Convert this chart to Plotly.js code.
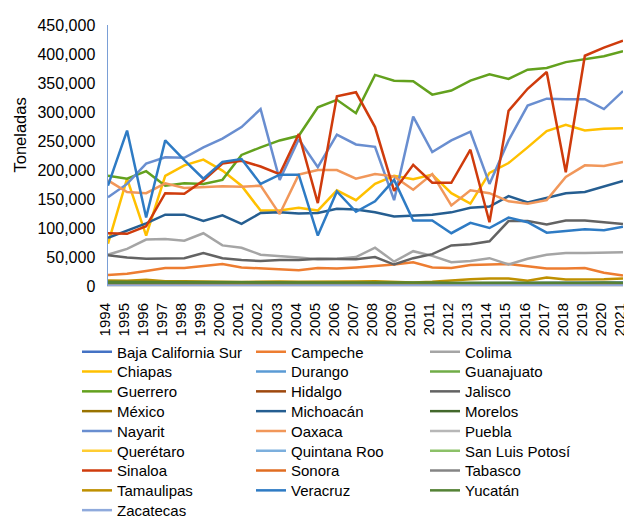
<!DOCTYPE html>
<html>
<head>
<meta charset="utf-8">
<script src="https://cdn.plot.ly/plotly-3.0.1.min.js"></script>
<style>
html,body{margin:0;padding:0;overflow:hidden;background:#fff;}
#chart{width:626px;height:519px;}
</style>
</head>
<body>
<div id="chart"></div>
<script>
// ---- Data (toneladas) ----
const years = ["1994","1995","1996","1997","1998","1999","2000","2001","2002","2003","2004","2005","2006","2007","2008","2009","2010","2011","2012","2013","2014","2015","2016","2017","2018","2019","2020","2021"];

const stateNames = ["Baja California Sur","Campeche","Colima","Chiapas","Durango","Guanajuato","Guerrero","Hidalgo","Jalisco","México","Michoacán","Morelos","Nayarit","Oaxaca","Puebla","Querétaro","Quintana Roo","San Luis Potosí","Sinaloa","Sonora","Tabasco","Tamaulipas","Veracruz","Yucatán","Zacatecas"];

const bajaCaliforniaSur = [3200,3000,3100,2900,2800,3000,2700,2600,2800,2900,3100,3300,3000,3200,3400,3500,3300,3600,4100,4800,5200,5600,5400,5800,5500,5700,5900,6100];
const campeche = [19000,21000,26000,31000,31000,35000,38000,32000,30000,28000,27000,31000,30000,32000,34000,37000,41000,32000,31000,36000,37000,38000,34000,30000,30000,31000,23000,18000];
const colima = [54000,64000,80000,81000,78000,91000,70000,66000,54000,52000,49000,46000,47000,50000,66000,42000,60000,52000,41000,43000,48000,37000,47000,54000,57000,57000,58000,58000];
const chiapas = [73000,185000,87000,190000,208000,218000,199000,173000,130000,130000,135000,130000,165000,148000,176000,190000,184000,192000,160000,142000,195000,212000,239000,267000,278000,268000,271000,272000];
const durango = [900,1000,1100,1000,900,1200,1000,1100,1300,1200,1100,1300,1400,1200,1300,1500,1400,1600,1500,1700,1600,1800,1700,1600,1800,1700,1900,1800];
const guanajuato = [300,300,400,300,300,400,300,300,400,400,300,300,400,400,300,300,400,300,400,400,300,400,400,300,400,300,400,400];
const guerrero = [190000,185000,198000,173000,177000,176000,183000,226000,239000,251000,259000,308000,321000,298000,364000,354000,353000,330000,337000,354000,365000,357000,373000,376000,386000,391000,396000,405000];
const hidalgo = [1500,1600,1400,1500,1700,1600,1500,1400,1600,1500,1700,1600,1800,1700,1600,1800,1700,1900,1800,1700,1900,2000,1800,1900,2100,2000,1900,2000];
const jalisco = [53000,49000,47000,48000,48000,57000,48000,45000,43000,45000,45000,47000,46000,46000,50000,37000,48000,55000,70000,72000,77000,112000,112000,106000,113000,113000,110000,107000];
const mexico = [2500,2600,2400,2500,2700,2600,2400,2500,2300,2600,2400,2500,2700,2600,2800,2500,2700,2600,2800,2900,2700,2800,3000,2900,2800,3000,2900,3100];
const michoacan = [83000,96000,108000,123000,123000,112000,122000,107000,126000,127000,125000,126000,133000,132000,127000,120000,122000,123000,127000,135000,137000,155000,144000,152000,160000,162000,171000,181000];
const morelos = [5200,5000,5400,4800,4600,4700,4500,4400,4600,4300,4500,4200,4400,4100,4000,4200,3900,4100,4000,3800,4000,3900,4100,3800,4000,3900,4100,4000];
const nayarit = [153000,176000,211000,222000,221000,239000,254000,274000,305000,183000,253000,205000,261000,244000,240000,148000,292000,231000,251000,266000,176000,251000,311000,323000,322000,322000,305000,336000];
const oaxaca = [182000,162000,160000,177000,169000,170000,172000,171000,173000,124000,192000,200000,200000,185000,193000,189000,166000,193000,139000,165000,160000,146000,142000,148000,188000,208000,207000,214000];
const puebla = [1100,1200,1000,1100,1300,1200,1100,1000,1200,1300,1100,1200,1400,1300,1200,1400,1300,1200,1500,1400,1300,1500,1400,1600,1500,1400,1600,1500];
const queretaro = [100,100,200,100,100,200,100,100,200,100,100,200,200,100,100,200,100,200,100,200,100,100,200,100,200,100,200,100];
const quintanaRoo = [600,700,500,600,700,600,500,600,700,600,500,700,600,700,600,500,600,700,600,700,600,500,700,600,700,600,700,600];
const sanLuisPotosi = [1800,1900,1700,1800,2000,1900,1800,1700,1900,2000,1800,1900,2100,2000,1900,2100,2000,1900,2200,2100,2000,2200,2100,2300,2200,2100,2300,2200];
const sinaloa = [91000,90000,103000,160000,159000,182000,211000,216000,206000,193000,262000,143000,327000,334000,274000,164000,209000,178000,178000,235000,110000,302000,340000,369000,196000,397000,411000,423000];
const sonora = [1300,1400,1200,1500,1600,1400,1300,1500,1700,1600,1500,1800,1700,1600,1900,1800,1700,1900,2000,1800,1900,2100,2000,1900,2100,2000,2200,2100];
const tabasco = [1000,900,1100,1000,1200,1100,1000,900,1100,1200,1000,1100,1300,1200,1100,1300,1200,1100,1400,1300,1200,1400,1300,1500,1400,1300,1500,1400];
const tamaulipas = [9500,9000,10600,8000,8000,8200,7200,7000,8000,7800,7200,7000,7300,7800,8300,7200,6000,7200,10000,11800,12900,12900,8900,14700,11200,11200,11800,12900];
const veracruz = [173000,268000,118000,251000,217000,185000,214000,219000,176000,192000,192000,87000,163000,128000,146000,183000,113000,113000,91000,109000,100000,118000,110000,92000,95000,98000,96000,102000];
const yucatan = [7200,7000,7400,6800,6600,6900,6400,6200,6500,6100,6300,6000,6200,5900,5800,6000,5700,5900,5800,5600,5800,5700,5900,5600,5800,5700,5900,5800];
const zacatecas = [400,300,500,400,300,400,500,300,400,500,400,300,500,400,300,400,500,400,300,500,400,300,500,400,300,400,500,400];

const seriesValues = [bajaCaliforniaSur,campeche,colima,chiapas,durango,guanajuato,guerrero,hidalgo,jalisco,mexico,michoacan,morelos,nayarit,oaxaca,puebla,queretaro,quintanaRoo,sanLuisPotosi,sinaloa,sonora,tabasco,tamaulipas,veracruz,yucatan,zacatecas];

const colors = ["#4472C4","#ED7D31","#A5A5A5","#FFC000","#5B9BD5","#70AD47","#63A11E","#9E480E","#636363","#997300","#255E91","#43682B","#698ED0","#F1975A","#B7B7B7","#FFCD33","#7CAFDD","#8CC168","#CF3B0C","#E06D22","#858585","#BF9000","#2E7BC4","#548235","#8FAADC"];

const FONT = "Liberation Sans, Arial, sans-serif";

// ---- Layout geometry ----
const W = 626, H = 519;
const mL = 108, mR = 3, mT = 25, mB = 233;
const plotH = H - mT - mB;
const plotW = W - mL - mR;

const traces = stateNames.map((name, i) => ({
  type: "scatter",
  mode: "lines",
  name: name,
  x: years,
  y: seriesValues[i],
  line: {color: colors[i], width: 2.5},
  legend: Math.floor(i / 3) === 0 ? "legend" : "legend" + (Math.floor(i / 3) + 1),
  hoverinfo: "x+y+name"
}));

const layout = {
  width: W,
  height: H,
  margin: {l: mL, r: mR, t: mT, b: mB, autoexpand: false},
  paper_bgcolor: "#ffffff",
  plot_bgcolor: "#ffffff",
  font: {family: FONT, color: "#000000", size: 15},
  showlegend: true,
  xaxis: {
    type: "category",
    showgrid: false,
    zeroline: false,
    showline: true,
    linecolor: "#D9D9D9",
    linewidth: 1,
    ticks: "",
    tickangle: -90,
    tickfont: {family: FONT, size: 15, color: "#000000"},
    ticklabelstandoff: 10,
    ticklabelshift: -3,
    fixedrange: true
  },
  yaxis: {
    range: [0, 450000],
    dtick: 50000,
    tick0: 0,
    tickformat: ",",
    showgrid: false,
    zeroline: false,
    showline: true,
    linecolor: "#7A9FD6",
    linewidth: 1.5,
    ticks: "",
    tickfont: {family: FONT, size: 16, color: "#000000"},
    ticklabelstandoff: 8,
    fixedrange: true
  },
  annotations: [{
    text: "Toneladas",
    xref: "paper", yref: "paper",
    x: (19 - mL) / plotW, y: (mT + plotH - 135.5) / plotH,
    xanchor: "center", yanchor: "middle",
    textangle: -90,
    showarrow: false,
    font: {family: FONT, size: 16.5, color: "#000000"}
  }]
};

// nine legend rows, three entries each
const nRows = Math.ceil(stateNames.length / 3);
for (let k = 0; k < nRows; k++) {
  const key = k === 0 ? "legend" : "legend" + (k + 1);
  const rowTopPx = 335.5 + 19.8 * k;
  layout[key] = {
    orientation: "h",
    xref: "paper", yref: "paper",
    x: (77 - mL) / plotW,
    xanchor: "left",
    y: (mT + plotH - rowTopPx) / plotH,
    yanchor: "top",
    entrywidth: 129,
    entrywidthmode: "pixels",
    bgcolor: "rgba(0,0,0,0)",
    borderwidth: 0,
    font: {family: FONT, size: 15, color: "#000000"},
    itemclick: false,
    itemdoubleclick: false
  };
}

Plotly.newPlot("chart", traces, layout, {displayModeBar: false, responsive: false, staticPlot: true});
</script>
</body>
</html>
